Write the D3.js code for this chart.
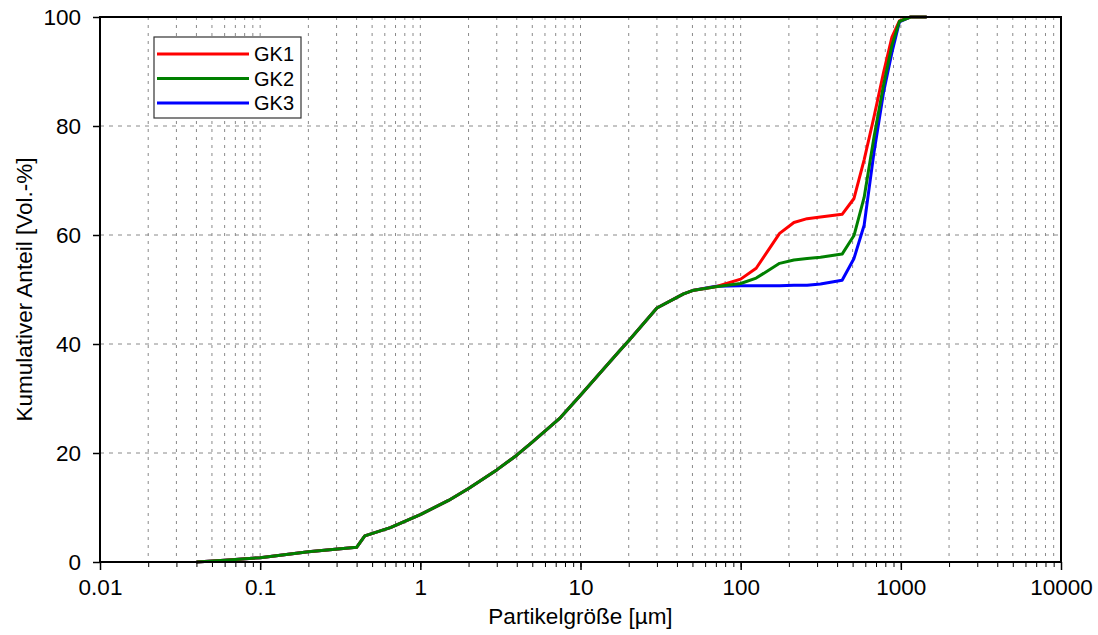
<!DOCTYPE html>
<html>
<head>
<meta charset="utf-8">
<script src="https://cdn.jsdelivr.net/npm/d3@7"></script>
<style>
  body { margin: 0; background: #fff; }
  svg { font-family: "Liberation Sans", Arial, Helvetica, sans-serif; }
</style>
</head>
<body>
<div id="chart"></div>
<script>
// particle sizes [µm] where all three samples coincide
const sizeCommon = [0.04, 0.06, 0.1, 0.2, 0.4, 0.45, 0.65, 1, 1.5, 2, 3, 4, 5, 7.5, 10, 13, 17.5, 20, 30, 44, 50];
const cumCommon  = [0, 0.3, 0.8, 1.9, 2.7, 4.8, 6.3, 8.7, 11.3, 13.5, 16.9, 19.6, 22.0, 26.5, 30.6, 34.4, 38.7, 40.6, 46.6, 49.2, 49.8];

// coarse part, where the samples diverge
const sizeTail = [70, 100, 125, 175, 215, 260, 315, 430, 510, 590, 680, 780, 880, 980, 1150, 1450];
const gk1Tail = [50.5, 51.9, 53.9, 60.3, 62.3, 63.0, 63.3, 63.8, 66.7, 73.8, 81.7, 89.8, 96.3, 99.3, 100, 100];
const gk2Tail = [50.5, 51.1, 52.1, 54.8, 55.4, 55.7, 55.9, 56.5, 59.9, 66.9, 78.0, 87.5, 94.8, 99.2, 100, 100];
const gk3Tail = [50.6, 50.7, 50.7, 50.7, 50.8, 50.8, 51.0, 51.7, 55.7, 61.8, 75.2, 86.2, 93.5, 99.1, 100, 100];

const seriesNames = ["GK1", "GK2", "GK3"];
const seriesColors = {GK1: "#ff0000", GK2: "#008000", GK3: "#0000ff"};

const xTickValues = [0.01, 0.1, 1, 10, 100, 1000, 10000];
const yTickValues = [0, 20, 40, 60, 80, 100];
const yGridValues = [20, 40, 60, 80];

function buildSeries(tail) {
  const pts = sizeCommon.map((s, i) => ({x: s, y: cumCommon[i]}));
  return pts.concat(sizeTail.map((s, i) => ({x: s, y: tail[i]})));
}
const series = {
  GK1: buildSeries(gk1Tail),
  GK2: buildSeries(gk2Tail),
  GK3: buildSeries(gk3Tail)
};

const width = 1098;
const height = 635;
const margin = {top: 17, right: 37, bottom: 73, left: 100};
const iw = width - margin.left - margin.right;
const ih = height - margin.top - margin.bottom;
const fontSize = 22.5;

const svg = d3.select("#chart").append("svg")
  .attr("width", width)
  .attr("height", height);

const g = svg.append("g").attr("transform", `translate(${margin.left},${margin.top})`);

const x = d3.scaleLog().domain([0.01, 10000]).range([0, iw]);
const y = d3.scaleLinear().domain([0, 100]).range([ih, 0]);

// minor + major positions for vertical grid
const allXTicks = [];
for (let e = -2; e < 4; e++) {
  for (let m = 1; m < 10; m++) allXTicks.push(m * Math.pow(10, e));
}
const gridX = allXTicks.filter(v => v > 0.01 * 1.0001);

g.append("g").attr("class", "grid-x")
  .selectAll("line")
  .data(gridX)
  .enter().append("line")
  .attr("x1", d => x(d)).attr("x2", d => x(d))
  .attr("y1", 0).attr("y2", ih)
  .attr("stroke", "#8a8a8a")
  .attr("stroke-width", 1)
  .attr("stroke-dasharray", "3,5");

g.append("g").attr("class", "grid-y")
  .selectAll("line")
  .data(yGridValues)
  .enter().append("line")
  .attr("x1", 0).attr("x2", iw)
  .attr("y1", d => y(d)).attr("y2", d => y(d))
  .attr("stroke", "#8a8a8a")
  .attr("stroke-width", 1)
  .attr("stroke-dasharray", "4,5");

// curves
const line = d3.line().x(d => x(d.x)).y(d => y(d.y));
["GK3", "GK1", "GK2"].forEach(name => {
  g.append("path")
    .datum(series[name])
    .attr("d", line)
    .attr("fill", "none")
    .attr("stroke", seriesColors[name])
    .attr("stroke-width", 3)
    .attr("stroke-linejoin", "round");
});

// x axis: minor ticks + labelled majors
const xAxisMinor = d3.axisBottom(x).tickValues(allXTicks.concat([10000])).tickSize(5).tickFormat("");
g.append("g").attr("transform", `translate(0,${ih})`).call(xAxisMinor)
  .call(a => a.select(".domain").remove())
  .selectAll("line").attr("stroke", "#000").attr("stroke-width", 1);

const xAxis = d3.axisBottom(x).tickValues(xTickValues).tickSize(8).tickPadding(9)
  .tickFormat(d => String(d));
const xa = g.append("g").attr("transform", `translate(0,${ih})`).call(xAxis);
xa.select(".domain").remove();
xa.selectAll("line").attr("stroke", "#000").attr("stroke-width", 1.5);
xa.selectAll("text").attr("font-size", fontSize).attr("fill", "#000")
  .attr("font-family", "Liberation Sans, Arial, sans-serif");

const yAxis = d3.axisLeft(y).tickValues(yTickValues).tickSize(7).tickPadding(12);
const ya = g.append("g").call(yAxis);
ya.select(".domain").remove();
ya.selectAll("line").attr("stroke", "#000").attr("stroke-width", 1.5);
ya.selectAll("text").attr("font-size", fontSize).attr("fill", "#000")
  .attr("font-family", "Liberation Sans, Arial, sans-serif");

// frame
g.append("rect")
  .attr("x", 0).attr("y", 0)
  .attr("width", iw).attr("height", ih)
  .attr("fill", "none")
  .attr("stroke", "#000")
  .attr("stroke-width", 2);

// axis titles
svg.append("text")
  .attr("x", margin.left + iw / 2)
  .attr("y", 624)
  .attr("text-anchor", "middle")
  .attr("font-size", fontSize)
  .text("Partikelgröße [µm]");

svg.append("text")
  .attr("transform", `translate(32,${margin.top + ih / 2}) rotate(-90)`)
  .attr("text-anchor", "middle")
  .attr("font-size", fontSize)
  .text("Kumulativer Anteil [Vol.-%]");

// legend
const legend = svg.append("g").attr("transform", "translate(154,37)");
legend.append("rect")
  .attr("width", 147).attr("height", 81)
  .attr("fill", "#fff")
  .attr("stroke", "#333")
  .attr("stroke-width", 1.2);

seriesNames.forEach((name, i) => {
  const ly = 17 + i * 24.5;
  legend.append("line")
    .attr("x1", 3).attr("x2", 95)
    .attr("y1", ly).attr("y2", ly)
    .attr("stroke", seriesColors[name])
    .attr("stroke-width", 3);
  legend.append("text")
    .attr("x", 100).attr("y", ly + 7)
    .attr("font-size", 20)
    .text(name);
});
</script>
</body>
</html>
